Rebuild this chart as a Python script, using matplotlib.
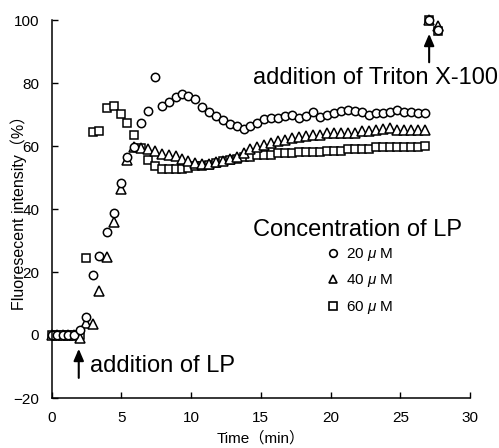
import matplotlib
matplotlib.use("Agg")
import matplotlib.pyplot as plt
from matplotlib.lines import Line2D

plt.rcParams['font.family'] = ['Liberation Sans', 'Noto Sans CJK JP', 'DejaVu Sans']
plt.rcParams['mathtext.fontset'] = 'custom'
plt.rcParams['mathtext.it'] = 'Liberation Sans:italic'
plt.rcParams['mathtext.rm'] = 'Liberation Sans'

time_min = [0, 0.4, 0.8, 1.2, 1.6, 2.0, 2.45, 2.95, 3.42, 3.95, 4.45, 4.95, 5.42, 5.9, 6.4,
            6.9, 7.4, 7.9, 8.4, 8.9, 9.35, 9.8, 10.3, 10.8, 11.3, 11.8, 12.3, 12.8, 13.3, 13.8,
            14.25, 14.75, 15.25, 15.75, 16.25, 16.75, 17.25, 17.75, 18.25, 18.75, 19.25, 19.75,
            20.25, 20.75, 21.25, 21.75, 22.25, 22.75, 23.25, 23.75, 24.25, 24.75, 25.25, 25.75,
            26.25, 26.8]

lp20 = [0, 0, 0, 0, 0, 1.6, 5.7, 19, 25, 32.7, 38.7, 48.3, 56.6, 59.8, 67.2,
        71.2, 82, 72.7, 74, 75.7, 76.5, 76, 74.8, 72.4, 70.8, 69.6, 68.4, 67.0, 66.3, 65.4,
        66.5, 67.4, 68.5, 68.8, 69.0, 69.6, 70.0, 68.8, 69.5, 70.9, 69.1, 69.8,
        70.4, 71.1, 71.4, 71.1, 70.7, 69.8, 70.4, 70.5, 70.9, 71.4, 70.9, 70.7,
        70.4, 70.4]

lp40 = [0, 0, 0, 0, 0, -1, 3.7, 3.5, 14, 24.7, 36, 46.3, 55.5, 59.6, 59.3,
        59.0, 58.3, 57.5, 57.2, 56.9, 56.0, 55.1, 54.6, 54.3, 54.4, 54.8, 55.2, 55.9, 56.6, 57.8,
        58.9, 59.8, 60.4, 60.8, 61.5, 62.0, 62.6, 63.0, 63.2, 63.5, 63.5, 64.0,
        64.0, 64.2, 64.2, 64.2, 64.9, 64.9, 65.1, 65.3, 65.6, 65.1, 65.1, 65.1,
        65.1, 65.1]

lp60 = [0, 0, 0, 0, 0, 0, 24.5, 64.3, 64.8, 72.2, 72.6, 70.3, 67.4, 63.5, 59.5,
        55.7, 53.8, 52.8, 52.6, 52.6, 52.8, 53.1, 53.6, 53.7, 54.0, 54.6, 55.1, 55.7, 56.0, 56.6,
        56.6, 57.1, 57.1, 57.3, 57.7, 57.7, 57.8, 58.2, 58.2, 58.2, 58.2, 58.5,
        58.5, 58.5, 58.9, 58.9, 58.9, 58.9, 59.6, 59.6, 59.6, 59.6, 59.6, 59.6,
        59.6, 60.0]

triton_time = [27.05, 27.7]
triton20 = [100, 96.8]
triton40 = [100, 98.0]
triton60 = [100, 96.5]

legend_labels = ["20 $\\mu$ M", "40 $\\mu$ M", "60 $\\mu$ M"]
x_ticks = [0, 5, 10, 15, 20, 25, 30]
y_ticks = [-20, 0, 20, 40, 60, 80, 100]

fig = plt.figure(figsize=(4.99, 4.48), dpi=100)
ax = fig.add_axes([51.7/499, 1-398/448, (470-51.7)/499, (398-20)/448])

mk = dict(linestyle='none', mfc='white', mec='black', mew=1.1, clip_on=False)
ax.plot(time_min, lp60, marker='s', ms=6, **mk)
ax.plot(triton_time, triton60, marker='s', ms=6, **mk)
ax.plot(time_min, lp40, marker='^', ms=6.5, **mk)
ax.plot(triton_time, triton40, marker='^', ms=6.5, **mk)
ax.plot(time_min, lp20, marker='o', ms=6, **mk)
ax.plot(triton_time, triton20, marker='o', ms=6, **mk)

ax.set_xlim(0, 30)
ax.set_ylim(-20, 100)
ax.set_xticks(x_ticks)
ax.set_yticks(y_ticks)
ax.tick_params(direction='in', length=4, width=1, labelsize=11, pad=9)
for s in ['top', 'right']:
    ax.spines[s].set_visible(False)
for s in ['left', 'bottom']:
    ax.spines[s].set_linewidth(1.1)

ax.set_xlabel("Time（min）", fontsize=11, labelpad=5)
ax.set_ylabel("Fluoresecent intensity（%）", fontsize=11.5)
ax.yaxis.set_label_coords(-0.06, 0.5)

arrow = dict(arrowstyle='-|>,head_length=0.7,head_width=0.3', color='black', lw=1.5)
ax.annotate('', xy=(1.94, -3.5), xytext=(1.94, -14.5), arrowprops=arrow, annotation_clip=False)
ax.annotate('', xy=(27.07, 96.5), xytext=(27.07, 85.7), arrowprops=arrow, annotation_clip=False)

ax.text(2.72, -10, "addition of LP", fontsize=17, ha='left', va='center')
ax.text(23.2, 81.5, "addition of Triton X-100", fontsize=17, ha='center', va='center')
ax.text(14.45, 33.2, "Concentration of LP", fontsize=17, ha='left', va='center')

handles = [Line2D([], [], linestyle='none', marker=m, ms=5.5, mfc='white', mec='black', mew=1.2)
           for m in ['o', '^', 's']]
ax.legend(handles, legend_labels, loc='upper left', bbox_to_anchor=(327/499, 1-246/448),
          bbox_transform=fig.transFigure, frameon=False, fontsize=11, handlelength=0.8,
          handletextpad=0.45, labelspacing=0.62, borderpad=0, borderaxespad=0)

fig.savefig("out.png", dpi=100)
